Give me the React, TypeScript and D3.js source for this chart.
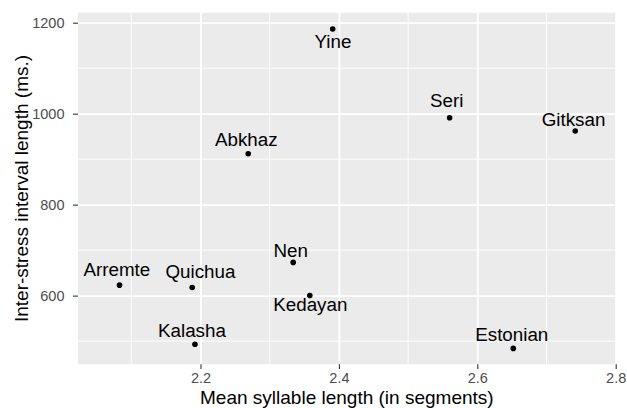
import React, { useRef, useEffect } from "react";
import * as d3 from "d3";

// language names and their measured values
const languages = ["Yine", "Seri", "Gitksan", "Abkhaz", "Arremte", "Quichua", "Nen", "Kedayan", "Kalasha", "Estonian"];
const syllableLength = [2.391, 2.56, 2.7415, 2.269, 2.083, 2.188, 2.334, 2.358, 2.192, 2.652];
const interStress = [1186, 991, 962, 912, 623, 618, 673, 600, 493, 484];

// label placement (like ggrepel output), pixel offsets from the point
const labelDx = [0.3, -3, -1.7, -2, -2.7, 8.2, -2.6, 0.5, -3, -1.5];
const labelDy = [18.5, -11, -5, -8, -9, -9.6, -5.6, 15, -7, -7];

const xTicks = [2.2, 2.4, 2.6, 2.8];
const xMinor = [2.1, 2.3, 2.5, 2.7];
const yTicks = [600, 800, 1000, 1200];
const yMinor = [500, 700, 900, 1100];

const FONT = "'Liberation Sans', Arial, sans-serif";

const App = () => {
  const svgRef = useRef<SVGSVGElement>(null);
  const width = 627;
  const height = 408;
  const panel = { left: 78, right: 615.7, top: 12.7, bottom: 364.3 };

  useEffect(() => {
    const x = d3.scaleLinear().domain([2.023, 2.8]).range([panel.left, panel.right]);
    const y = d3.scaleLinear().domain([449, 1222]).range([panel.bottom, panel.top]);

    const svg = d3.select(svgRef.current);
    svg.selectAll("*").remove();

    // panel background
    svg
      .append("rect")
      .attr("x", panel.left)
      .attr("y", panel.top)
      .attr("width", panel.right - panel.left)
      .attr("height", panel.bottom - panel.top)
      .attr("fill", "#EBEBEB");

    const grid = svg.append("g");
    // minor grid lines
    grid
      .selectAll(".xminor")
      .data(xMinor)
      .enter()
      .append("line")
      .attr("x1", (d) => x(d))
      .attr("x2", (d) => x(d))
      .attr("y1", panel.top)
      .attr("y2", panel.bottom)
      .attr("stroke", "white")
      .attr("stroke-width", 0.9);
    grid
      .selectAll(".yminor")
      .data(yMinor)
      .enter()
      .append("line")
      .attr("x1", panel.left)
      .attr("x2", panel.right)
      .attr("y1", (d) => y(d))
      .attr("y2", (d) => y(d))
      .attr("stroke", "white")
      .attr("stroke-width", 0.9);

    // major grid lines via d3 axes
    const xAxis = d3.axisBottom(x).tickValues(xTicks).tickSize(-(panel.bottom - panel.top));
    const xg = svg.append("g").attr("transform", `translate(0,${panel.bottom})`).call(xAxis);
    xg.select(".domain").remove();
    xg.selectAll("line").attr("stroke", "white").attr("stroke-width", 1.8);
    xg.selectAll("text").remove();

    const yAxis = d3.axisLeft(y).tickValues(yTicks).tickSize(-(panel.right - panel.left));
    const yg = svg.append("g").attr("transform", `translate(${panel.left},0)`).call(yAxis);
    yg.select(".domain").remove();
    yg.selectAll("line").attr("stroke", "white").attr("stroke-width", 1.8);
    yg.selectAll("text").remove();

    // outer tick marks and labels
    const xOut = d3.axisBottom(x).tickValues(xTicks).tickSize(4.7).tickPadding(4).tickFormat(d3.format(".1f"));
    const xo = svg.append("g").attr("transform", `translate(0,${panel.bottom})`).call(xOut);
    xo.select(".domain").remove();
    xo.selectAll("line").attr("stroke", "#333333").attr("stroke-width", 1.1);
    xo.selectAll("text").attr("fill", "#4D4D4D").attr("font-size", 14.5).attr("font-family", FONT);

    const yOut = d3.axisLeft(y).tickValues(yTicks).tickSize(5).tickPadding(8.5).tickFormat(d3.format("d"));
    const yo = svg.append("g").attr("transform", `translate(${panel.left},0)`).call(yOut);
    yo.select(".domain").remove();
    yo.selectAll("line").attr("stroke", "#333333").attr("stroke-width", 1.1);
    yo.selectAll("text").attr("fill", "#4D4D4D").attr("font-size", 14.5).attr("font-family", FONT);

    // points
    const idx = d3.range(languages.length);
    svg
      .selectAll(".pt")
      .data(idx)
      .enter()
      .append("circle")
      .attr("cx", (i) => x(syllableLength[i]))
      .attr("cy", (i) => y(interStress[i]))
      .attr("r", 2.8)
      .attr("fill", "black");

    // labels
    svg
      .selectAll(".lbl")
      .data(idx)
      .enter()
      .append("text")
      .attr("x", (i) => x(syllableLength[i]) + labelDx[i])
      .attr("y", (i) => y(interStress[i]) + labelDy[i])
      .attr("text-anchor", "middle")
      .attr("font-family", FONT)
      .attr("font-size", 18.8)
      .attr("fill", "black")
      .text((i) => languages[i]);

    // axis titles
    svg
      .append("text")
      .attr("x", (panel.left + panel.right) / 2)
      .attr("y", 404)
      .attr("text-anchor", "middle")
      .attr("font-family", FONT)
      .attr("font-size", 19)
      .attr("fill", "black")
      .text("Mean syllable length (in segments)");
    svg
      .append("text")
      .attr("transform", `translate(28,${(panel.top + panel.bottom) / 2}) rotate(-90)`)
      .attr("text-anchor", "middle")
      .attr("font-family", FONT)
      .attr("font-size", 19)
      .attr("fill", "black")
      .text("Inter-stress interval length (ms.)");
  }, []);

  return (
    <svg
      ref={svgRef}
      width={width}
      height={height}
      style={{ position: "absolute", left: 0, top: 0, background: "white" }}
    />
  );
};

export default App;
